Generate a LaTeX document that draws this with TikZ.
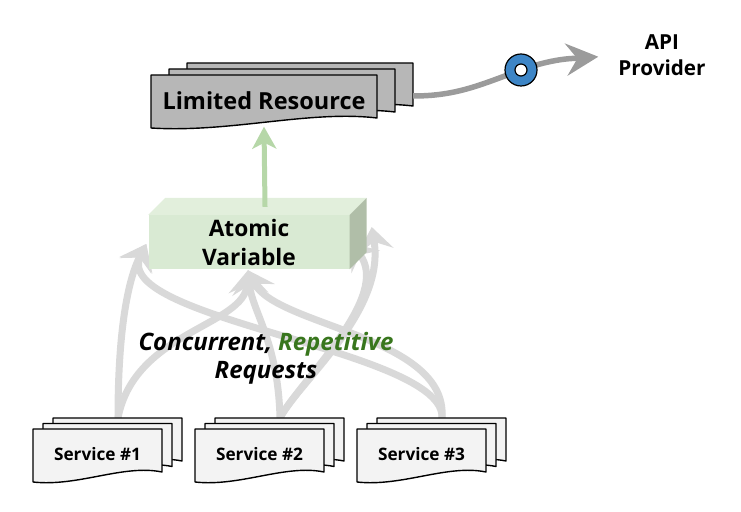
\documentclass[tikz,border=0pt]{standalone}
\usepackage{fontspec}
\setmainfont{Open Sans}
\usepackage{tikz}
\usetikzlibrary{calc,backgrounds,arrows.meta}

\definecolor{resgray}{RGB}{183,183,183}
\definecolor{svcgray}{RGB}{243,243,243}
\definecolor{cubefront}{RGB}{217,234,211}
\definecolor{cubetop}{RGB}{226,239,220}
\definecolor{cubeside}{RGB}{176,190,168}
\definecolor{upgreen}{RGB}{182,215,168}
\definecolor{reqgray}{RGB}{217,217,217}
\definecolor{apigray}{RGB}{155,155,155}
\definecolor{plugblue}{RGB}{61,133,198}
\definecolor{reptgreen}{RGB}{56,118,29}

\tikzset{
  pics/docpage/.style args={#1/#2/#3}{code={
    \draw[docline,fill=#3] (0,0) -- (#1,0) -- (#1,-#2)
      .. controls +(-0.3*#1,8) and +(0.35*#1,-5) .. (0,-#2-10) -- cycle;
  }}
}

\begin{document}
\begin{tikzpicture}[x=1pt,y=1pt]

  \path[use as bounding box] (0,0) rectangle (741,511);

  \tikzstyle{docline}=[draw=black,line width=1.4pt,line join=round]
  \tikzstyle{restext}=[minimum width=226pt,minimum height=43pt,inner sep=0pt,font=\fontsize{23.5}{27}\selectfont\bfseries]
  \tikzstyle{svctext}=[minimum width=129pt,minimum height=43pt,inner sep=0pt,font=\fontsize{17.2}{20}\selectfont\bfseries]
  \tikzstyle{cubenode}=[fill=cubefront,minimum width=201pt,minimum height=54pt,inner sep=0pt,align=center,font=\fontsize{22.7}{29}\selectfont\bfseries]
  \tikzstyle{apitext}=[align=center,inner sep=0pt,font=\fontsize{20.7}{26}\selectfont\bfseries]
  \tikzstyle{reqtext}=[align=center,inner sep=0pt,font=\fontsize{24}{28}\selectfont\bfseries\itshape]
  \tikzstyle{plugring}=[draw=black,line width=1.2pt,circle,fill=plugblue,minimum size=32pt,inner sep=0pt]
  \tikzstyle{plughole}=[draw=black,line width=1.2pt,circle,fill=white,minimum size=12pt,inner sep=0pt]

  \tikzstyle{reqarrow}=[draw=reqgray,line width=7pt,-{Stealth[length=24pt,width=36pt,inset=9pt]}]
  \tikzstyle{uparrow}=[draw=upgreen,line width=5pt,-{Stealth[length=22pt,width=24pt,inset=6pt]}]
  \tikzstyle{apiarrow}=[draw=apigray,line width=5.5pt,-{Stealth[length=32pt,width=32pt,inset=11pt]},shorten >=20pt]

  % pages
  \foreach \k in {2,1,0}
    \pic at ({151+18*\k},{436+6*\k}) {docpage=226/43/resgray};
  \foreach \i in {1,2,3} {
    \foreach \k in {2,1,0}
      \pic at ({33+162*(\i-1)+10*\k},{82+5.5*\k}) {docpage=129/43/svcgray};
  }

  % nodes
  \node[restext] (res) at (264,410) {Limited Resource};
  \foreach \i in {1,2,3}
    \node[svctext] (s\i) at ({97.5+162*(\i-1)},57) {Service \#\i};
  \node[cubenode] (atomic) at (249,269) {Atomic\\Variable};
  \node[apitext] (api) at (662,456) {API\\Provider};
  \node[reqtext] (reqlabel) at (266,153) {Concurrent, \textcolor{reptgreen}{Repetitive}\\Requests};

  % cube faces
  \draw[fill=cubetop,draw=none] (atomic.north west) -- ++(17,17) -- ($(atomic.north east)+(17,17)$) -- (atomic.north east) -- cycle;
  \draw[fill=cubeside,draw=none] (atomic.north east) -- ++(17,17) -- ($(atomic.south east)+(17,17)$) -- (atomic.south east) -- cycle;

  % ends
  \foreach \i in {1,2,3}
    \coordinate (out\i) at ($(s\i.north)+(20.5,14.5)$);
  \coordinate (atl) at ($(atomic.west)+(-2,-2)$);
  \coordinate (atm) at ($(atomic.south)+(-1,-1)$);
  \coordinate (atr) at ($(atomic.east)+(1,-1)$);
  \coordinate (atrr) at ($(atomic.east)+(22,15)$);
  \coordinate (plugpos) at (521,441);

  % pointers
  \begin{scope}[on background layer]
    \draw[reqarrow] (out1) .. controls +(0,98) and +(-16,-31) .. (atl);
    \draw[reqarrow] (out1) .. controls +(17,87) and +(-3,-56) .. (atm);
    \draw[reqarrow] (out2) .. controls +(-2,77) and +(4,-41) .. (atm);
    \draw[reqarrow] (out2) .. controls +(20,37) and +(42,-53) .. (atr);
    \draw[reqarrow] (out2) .. controls +(20,37) and +(14,-84) .. (atrr);
    \draw[reqarrow] (out3) .. controls +(3,68) and +(-36,-76) .. (atl);
    \draw[reqarrow] (out3) .. controls +(6,82) and +(27,-56) .. (atm);
  \end{scope}

  \draw[uparrow] ($(atomic.north)+(16,8)$) -- ($(res.south)+(0,-4)$);
  \draw[apiarrow] ($(res.east)+(36,5)$) to[out=0,in=-160] (plugpos) to[out=20,in=-175] (api.west);
  \node[plugring] (plug) at (plugpos) {};
  \node[plughole] (hole) at (plug) {};

\end{tikzpicture}
\end{document}
